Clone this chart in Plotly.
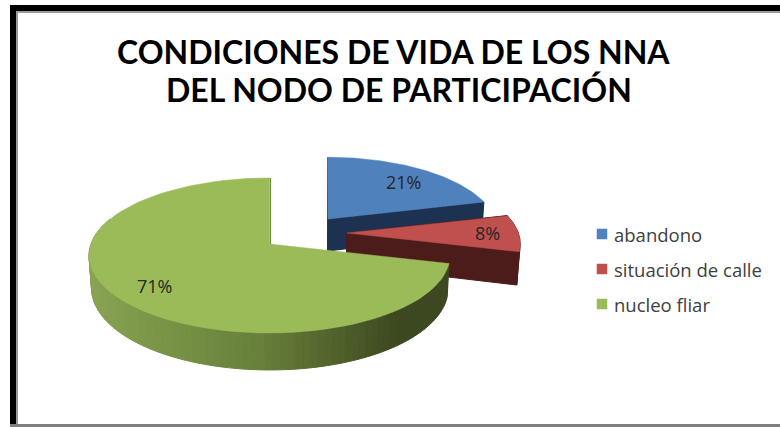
import numpy as np
import plotly.graph_objects as go

categories = ["abandono", "situación de calle", "nucleo fliar"]
values = [21, 8, 71]
top_colors = ["#4f81bd", "#c0504d", "#9bbb59"]
side_colors = ["#1d3150", "#4c1c1b", "#3f4a22"]
title_lines = ["CONDICIONES DE VIDA DE LOS NNA", "DEL NODO DE PARTICIPACIÓN"]

# Projection of the tilted disc
CX, CY = 269.5, 244.0
RX, RY, K = 178.5, 75.8, 0.148
offsets = [(58.5, -25, 0.935), (77.5, -11, 0.96), (0, 0, 1.0)]
label_pos = [(403, 182), (487, 233), (154, 286)]
legend_x, legend_y = [602, 602, 602], [234, 269, 304]
legend_text_x = 614
title_x, title_y = [393, 399], [51, 89]


def proj(t_deg, r=1.0, off=(0, 0, 1.0)):
    t = np.radians(t_deg)
    u, v = r * np.sin(t), r * np.cos(t)
    w = 1 + K * v
    return CX + off[0] + off[2] * RX * u / w, CY + off[1] - off[2] * RY * v / w, v


def lower(x, y, v):
    return x + (300 - x) * 0.012, y + 32 - 5 * v


def poly(xs, ys, color, line=1):
    return go.Scatter(x=list(xs), y=list(ys), mode="lines", fill="toself", fillcolor=color,
                      line=dict(color=color, width=line), hoverinfo="skip", showlegend=False)


fig = go.Figure()
share = np.cumsum([0] + values) / sum(values) * 360.0

for i in range(3):
    a0, a1 = share[i], share[i + 1]
    off = offsets[i]
    ts = np.linspace(a0, a1, 90)
    ax, ay, av = proj(0, 0, off)
    lax, lay = lower(ax, ay, av)
    if i < 2:
        ex, ey, ev = proj(a1, 1, off)
        lex, ley = lower(ex, ey, ev)
        fig.add_trace(poly([ax, ex, lex, lax, ax], [ay, ey, ley, lay, ay], side_colors[i]))
        sx, sy, sv = proj(a0, 1, off)
        lsx, lsy = lower(sx, sy, sv)
        fig.add_trace(poly([ax, sx, lsx, lax, ax], [ay, sy, lsy, lay, ay], side_colors[i]))
        if i == 1:
            ox, oy, ov = proj(ts, 1, off)
            lx, ly = lower(ox, oy, ov)
            fig.add_trace(poly(list(ox) + list(lx[::-1]), list(oy) + list(ly[::-1]), side_colors[i]))
    else:
        stops_x = [85, 130, 260, 400, 450]
        stops_c = np.array([[139, 165, 84], [128, 155, 76], [104, 128, 58], [60, 72, 32], [62, 72, 34]])
        edges = np.linspace(a0, 290, 90)
        for e0, e1 in zip(edges[:-1], edges[1:]):
            x0, y0, v0 = proj(e0, 1, off)
            x1, y1, v1 = proj(e1, 1, off)
            lx0, ly0 = lower(x0, y0, v0)
            lx1, ly1 = lower(x1, y1, v1)
            xm = (x0 + x1) / 2
            c = [int(np.interp(xm, stops_x, stops_c[:, k])) for k in range(3)]
            fig.add_trace(poly([x0, x1, lx1, lx0, x0], [y0, y1, ly1, ly0, y0], f"rgb({c[0]},{c[1]},{c[2]})"))
    ox, oy, _ = proj(ts, 1, off)
    fig.add_trace(poly([ax] + list(ox) + [ax], [ay] + list(oy) + [ay], top_colors[i], line=0.5))
    if i == 2:
        tx, ty, _ = proj(a1, 1, off)
        fig.add_trace(go.Scatter(x=[ax + 1, tx + 1], y=[ay, ty], mode="lines",
                                 line=dict(color="#6f8a3c", width=1.2),
                                 hoverinfo="skip", showlegend=False))

# Legend entries
for i, name in enumerate(categories):
    fig.add_trace(go.Scatter(x=[legend_x[i]], y=[legend_y[i]], mode="markers", name=name,
                             showlegend=False,
                             marker=dict(symbol="square", size=10.5, color=top_colors[i])))
    fig.add_annotation(x=legend_text_x, y=legend_y[i], text=name, showarrow=False, xanchor="left",
                       xshift=-2, font=dict(family="Open Sans", size=18.5, color="#404040"))

# Percent labels
for v, (lx, ly) in zip(values, label_pos):
    fig.add_annotation(x=lx, y=ly, text=f"{round(v / sum(values) * 100)}%", showarrow=False,
                       font=dict(family="Open Sans", size=18, color="#262626"))

# Title
for line, x, y in zip(title_lines, title_x, title_y):
    fig.add_annotation(x=x, y=y, text=line, showarrow=False, xanchor="center",
                       font=dict(family="Lato", size=32, color="#000000", weight="bold"))

# Frame
frame = [(10, 5, 16, 427, "#000000"), (10, 5, 780, 11, "#000000"),
         (16, 11, 18, 427, "#9a9a9a"), (16, 11, 780, 13, "#9a9a9a"),
         (10, 424, 780, 427, "#7f7f7f")]
for x0, y0, x1, y1, c in frame:
    fig.add_shape(type="rect", x0=x0, x1=x1, y0=y0, y1=y1, fillcolor=c, line_width=0, layer="below")

fig.update_layout(
    width=780, height=427, margin=dict(l=0, r=0, t=0, b=0),
    paper_bgcolor="white", plot_bgcolor="white",
    xaxis=dict(range=[0, 780], visible=False, fixedrange=True),
    yaxis=dict(range=[427, 0], visible=False, fixedrange=True),
    showlegend=False,
)
fig.write_html("out.html", config={"displayModeBar": False},
               post_script="document.body.style.margin='0';")
